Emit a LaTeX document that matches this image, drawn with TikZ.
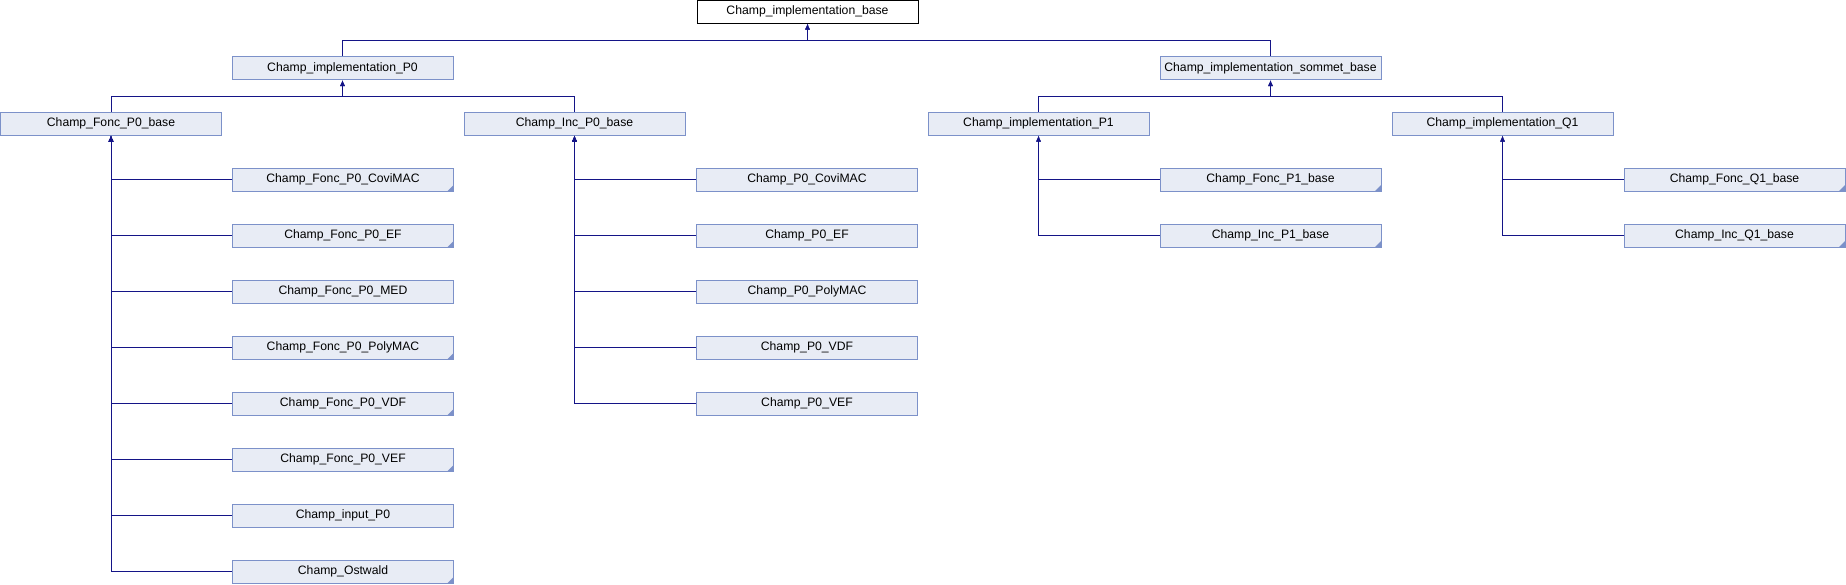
\documentclass[tikz,border=0pt]{standalone}
\usepackage{fontspec}
\setmainfont{Liberation Sans}
\usetikzlibrary{arrows.meta}
\definecolor{boxfill}{RGB}{232,236,245}
\definecolor{boxline}{RGB}{124,145,201}
\definecolor{edgecol}{RGB}{20,20,135}
\tikzset{
  cls/.style={draw=boxline, fill=boxfill, line width=1pt, minimum width=221pt, minimum height=23pt, inner sep=0pt, font=\fontsize{12.2}{14}\selectfont},
  rootcls/.style={cls, draw=black, fill=white},
  folded/.style={path picture={\fill[boxline] (path picture bounding box.south east) -- ++(-6pt,0pt) -- ++(6pt,6pt) -- cycle;}},
  edge/.style={draw=edgecol, line width=1pt, -{Latex[length=6pt,width=5pt]}},
}
\begin{document}
\begin{tikzpicture}[x=1pt,y=-1pt]
\useasboundingbox (0,0) rectangle (1846,584);
% level 0
\node[rootcls] (top) at (807.5,11.5) {Champ\_implementation\_base};
% level 1
\node[cls] (p0) at (342.5,68) {Champ\_implementation\_P0};
\node[cls] (som) at (1270.5,68) {Champ\_implementation\_sommet\_base};
% level 2
\node[cls] (fp0) at (111,123.5) {Champ\_Fonc\_P0\_base};
\node[cls] (ip0) at (574.5,123.5) {Champ\_Inc\_P0\_base};
\node[cls] (p1) at (1038.5,123.5) {Champ\_implementation\_P1};
\node[cls] (q1) at (1502.5,123.5) {Champ\_implementation\_Q1};
% children of Champ_Fonc_P0_base
\node[cls,folded] (f1) at (343,179.5) {Champ\_Fonc\_P0\_CoviMAC};
\node[cls,folded] (f2) at (343,235.5) {Champ\_Fonc\_P0\_EF};
\node[cls] (f3) at (343,291.5) {Champ\_Fonc\_P0\_MED};
\node[cls,folded] (f4) at (343,347.5) {Champ\_Fonc\_P0\_PolyMAC};
\node[cls,folded] (f5) at (343,403.5) {Champ\_Fonc\_P0\_VDF};
\node[cls,folded] (f6) at (343,459.5) {Champ\_Fonc\_P0\_VEF};
\node[cls] (f7) at (343,515.5) {Champ\_input\_P0};
\node[cls,folded] (f8) at (343,571.5) {Champ\_Ostwald};
% children of Champ_Inc_P0_base
\node[cls] (i1) at (807,179.5) {Champ\_P0\_CoviMAC};
\node[cls] (i2) at (807,235.5) {Champ\_P0\_EF};
\node[cls] (i3) at (807,291.5) {Champ\_P0\_PolyMAC};
\node[cls] (i4) at (807,347.5) {Champ\_P0\_VDF};
\node[cls] (i5) at (807,403.5) {Champ\_P0\_VEF};
% children of P1 and Q1
\node[cls,folded] (pa) at (1270.5,179.5) {Champ\_Fonc\_P1\_base};
\node[cls,folded] (pb) at (1270.5,235.5) {Champ\_Inc\_P1\_base};
\node[cls,folded] (qa) at (1734.5,179.5) {Champ\_Fonc\_Q1\_base};
\node[cls,folded] (qb) at (1734.5,235.5) {Champ\_Inc\_Q1\_base};
% bus coordinates
\coordinate (btop) at (807.5,40);
\coordinate (bp0) at (342.5,96.5);
\coordinate (bsom) at (1270.5,96.5);
% edges, top-down fans
\draw[edge] (p0.north) |- (btop) -- (top.south);
\draw[edge] (som.north) |- (btop) -- (top.south);
\draw[edge] (fp0.north) |- (bp0) -- (p0.south);
\draw[edge] (ip0.north) |- (bp0) -- (p0.south);
\draw[edge] (p1.north) |- (bsom) -- (som.south);
\draw[edge] (q1.north) |- (bsom) -- (som.south);
% side trunks
\foreach \c in {f1,f2,f3,f4,f5,f6,f7,f8} \draw[edge] (\c.west) -| (fp0.south);
\foreach \c in {i1,i2,i3,i4,i5} \draw[edge] (\c.west) -| (ip0.south);
\foreach \c in {pa,pb} \draw[edge] (\c.west) -| (p1.south);
\foreach \c in {qa,qb} \draw[edge] (\c.west) -| (q1.south);
\end{tikzpicture}
\end{document}
